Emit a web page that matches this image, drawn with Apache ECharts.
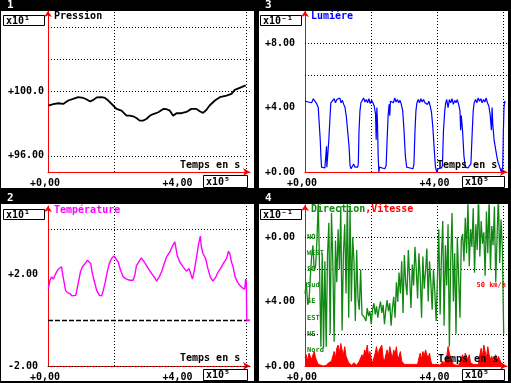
<!DOCTYPE html>
<html><head><meta charset="utf-8">
<script src="https://cdn.jsdelivr.net/npm/echarts@6/dist/echarts.min.js"></script>
<style>html,body{margin:0;padding:0;background:#000}#c{width:511px;height:383px}</style>
</head><body><div id="c"></div>
<script>
// ---------- DATA ----------
// Panel 1 : Pression (x10^1), time in x10^5 s
const presX = [0.01,0.16,0.31,0.46,0.61,0.76,0.91,1.07,1.17,1.27,1.37,1.47,1.62,1.72,1.82,1.97,2.07,2.22,2.37,2.47,2.57,2.67,2.77,2.87,2.97,3.08,3.18,3.33,3.48,3.58,3.68,3.78,3.88,4.03,4.18,4.33,4.48,4.58,4.68,4.78,4.88,5.04,5.19,5.39,5.54,5.64,5.79,5.97];
const presY = [99.13,99.21,99.27,99.23,99.44,99.54,99.65,99.60,99.50,99.38,99.48,99.63,99.65,99.60,99.44,99.13,98.92,98.81,98.50,98.50,98.46,98.35,98.19,98.19,98.29,98.50,98.60,98.71,98.92,98.90,98.81,98.50,98.65,98.65,98.73,98.92,98.92,98.77,98.67,98.85,99.13,99.44,99.65,99.75,99.85,100.10,100.23,100.38];

// Panel 3 : Lumière (x10^-1)
const lumX = [0.00,0.05,0.10,0.15,0.20,0.25,0.30,0.35,0.40,0.43,
0.46,0.48,0.50,0.55,0.60,0.63,0.65,0.66,0.70,0.72,
0.75,0.78,0.82,0.88,0.92,0.96,1.00,1.05,1.09,1.13,
1.17,1.21,1.25,1.29,1.33,1.36,1.39,1.43,1.47,1.51,
1.56,1.59,1.61,1.63,1.66,1.69,1.73,1.77,1.81,1.85,
1.89,1.93,1.97,2.01,2.05,2.09,2.13,2.15,2.17,2.19,
2.21,2.23,2.25,2.29,2.33,2.37,2.41,2.45,2.48,2.51,
2.54,2.56,2.58,2.63,2.67,2.71,2.75,2.79,2.83,2.87,
2.91,2.95,2.99,3.03,3.07,3.12,3.17,3.22,3.26,3.29,
3.32,3.35,3.38,3.42,3.46,3.50,3.54,3.58,3.62,3.66,
3.70,3.74,3.78,3.82,3.86,3.90,3.94,3.98,4.02,4.07,
4.12,4.15,4.18,4.22,4.25,4.28,4.32,4.36,4.40,4.44,
4.48,4.52,4.56,4.60,4.64,4.68,4.70,4.72,4.76,4.80,
4.84,4.88,4.92,4.96,5.01,5.05,5.08,5.11,5.15,5.19,
5.23,5.27,5.31,5.35,5.39,5.43,5.47,5.51,5.55,5.59,
5.63,5.65,5.67,5.71,5.75,5.79,5.83,5.88,5.93,5.97,
5.99,6.01,6.03,6.05];
const lumY = [4.4,4.5,4.35,4.45,4.3,4.55,4.4,4.25,4.0,3.0,
2.0,1.0,0.3,0.2,0.25,0.3,1.6,0.3,0.35,2.0,
3.2,4.3,4.4,4.55,4.3,4.5,4.4,4.6,4.3,4.45,
4.2,4.0,3.4,2.5,1.6,0.4,0.2,0.3,0.5,0.3,
0.35,0.3,0.5,2.5,3.8,4.3,4.4,4.6,4.35,4.5,
4.3,4.55,4.25,4.45,4.3,4.1,3.6,2.0,4.0,3.0,
1.0,0.0,0.3,0.2,0.25,0.3,0.2,0.4,2.0,3.5,
4.2,3.5,4.4,4.5,4.3,4.6,4.35,4.5,4.3,4.45,
4.2,3.8,2.6,1.0,0.3,0.2,0.25,0.3,0.2,0.5,
2.5,3.8,4.3,4.5,4.3,4.55,4.35,4.5,4.3,4.4,
4.2,4.4,4.1,3.7,2.8,1.5,0.3,0.0,0.2,0.3,
0.25,0.4,2.5,3.8,4.3,4.5,4.0,4.5,4.3,4.55,
4.2,4.45,4.3,4.5,4.2,3.8,2.6,3.5,2.5,1.0,
0.3,0.2,0.25,0.35,0.5,2.5,3.8,4.3,4.5,4.3,
4.6,4.4,4.55,4.3,4.5,4.35,4.6,4.3,4.1,3.6,
2.6,4.0,3.0,2.0,1.5,1.0,0.6,0.3,0.0,0.3,
2.5,4.0,4.4,4.3];

// Panel 2 : Température (x10^1)
const tempX = [0.01,0.06,0.11,0.16,0.21,0.26,0.31,0.36,0.41,0.44,
0.48,0.53,0.59,0.66,0.72,0.78,0.84,0.88,0.93,0.98,
1.04,1.12,1.19,1.25,1.29,1.33,1.39,1.47,1.55,1.62,
1.67,1.73,1.79,1.85,1.92,1.99,2.05,2.12,2.19,2.27,
2.37,2.47,2.57,2.62,2.67,2.75,2.82,2.87,2.94,3.03,
3.13,3.23,3.28,3.36,3.43,3.50,3.58,3.68,3.76,3.83,
3.86,3.90,3.98,4.08,4.18,4.26,4.31,4.36,4.41,4.48,
4.54,4.60,4.63,4.68,4.76,4.83,4.90,4.98,5.07,5.14,
5.21,5.29,5.39,5.45,5.49,5.54,5.59,5.65,5.72,5.79,
5.87,5.94,5.97,5.99,6.00,6.10];
const tempY = [1.39,1.75,1.90,1.80,1.97,2.12,2.23,2.29,2.34,2.04,
1.71,1.31,1.21,1.17,1.07,1.02,1.09,1.39,1.75,2.12,
2.34,2.48,2.63,2.70,2.48,2.12,1.75,1.31,1.09,1.07,
1.31,1.68,2.12,2.48,2.70,2.82,2.77,2.55,2.19,1.90,
1.80,1.75,1.75,1.97,2.38,2.58,2.73,2.77,2.48,2.26,
2.04,1.85,1.71,1.90,2.12,2.44,2.77,2.99,3.26,3.43,
3.36,2.85,2.55,2.34,2.15,2.26,2.04,1.80,2.12,2.70,
3.28,3.68,3.21,2.92,2.70,2.26,1.90,1.71,1.90,2.12,
2.26,2.48,2.70,3.02,2.92,2.55,2.34,1.90,1.68,1.53,
1.42,1.36,1.80,1.71,0.0,0.0];

// Panel 4 : Direction & Vitesse (x10^-1), sampled every 0.04 x10^5 s
const windStep = 0.04;
const dirY = [4.5,5.2,3.8,4.0,5.5,
6.8,7.5,5.9,6.2,7.8,10.2,6.0,1.2,7.0,1.1,6.5,1.2,6.9,
8.9,2.0,9.5,6.5,1.5,7.8,5.2,8.5,6.0,9.9,2.2,7.0,8.8,4.5,10.5,3.0,
9.8,4.0,8.0,6.5,2.8,7.2,4.2,3.5,6.0,3.2,
3.3,3.0,2.8,3.6,3.1,3.4,2.6,3.5,3.9,3.2,3.7,3.0,3.6,4.0,3.3,3.8,2.6,3.5,4.1,3.4,3.9,2.5,3.6,4.3,3.0,
5.2,4.0,5.8,4.5,6.5,3.3,6.9,5.2,4.4,7.2,5.5,3.6,6.3,5.0,7.4,
6.0,4.2,7.0,5.5,3.0,6.8,4.8,5.9,7.3,4.0,6.5,5.2,3.5,6.0,4.6,2.8,5.5,
8.5,3.2,6.8,9.0,2.5,7.5,5.0,8.8,1.2,6.5,9.5,4.0,7.0,2.0,8.0,5.5,3.0,7.8,
8.2,6.5,9.2,7.0,10.2,6.2,8.5,7.4,9.8,5.8,8.8,7.2,10.5,6.8,9.0,7.6,8.3,5.6,9.6,7.0,10.4,6.0,8.7,7.5,9.9,5.2,8.0,10.6,6.4,9.1,7.3,2.0];
const speedY = [0.5,0.7,0.3,0.8,0.6,0.4,0.7,0.9,0.5,0.3,0.1,
0.1,0.05,0.1,0,0.1,0.05,0.1,0.2,0.1,0.3,
0.6,0.9,0.5,1.1,1.3,0.8,1.4,1.0,0.7,1.2,0.6,0.4,0.2,
0.1,0.05,0.1,0.2,0.1,0.05,0.1,0.3,0.2,
0.7,0.5,1.0,0.8,1.3,0.6,0.9,0.4,0.2,0.5,
0.8,1.2,0.6,1.0,0.9,1.3,0.5,0.3,
0.7,1.0,0.6,1.2,0.8,0.5,1.0,0.7,1.2,0.4,0.6,0.9,0.3,0.2,0.1,
0.05,0.1,0,0.1,0.05,0.1,0.05,0.1,0.2,0.1,
0.5,0.8,0.4,0.9,0.6,1.0,0.7,0.5,0.8,0.3,0.1,0.05,
0.1,0.05,0.1,0.2,0.05,0.1,0.3,0.1,0.05,
0.6,1.2,0.8,0.5,0.3,0.1,
0.1,0.05,0.1,0.05,0.2,
0.5,0.7,0.3,0.8,0.6,0.4,0.7,0.2,0.1,
0.1,0.05,0.1,0.2,0.1,
0.7,1.1,0.6,1.3,0.9,0.5,1.2,0.7,0.4,0.6,0.3,
0.5,0.7,0.3,0.6,0.4,0.2,0.1,0.05];

// Tick labels
const xTickVals = [0, 4];
const xTickLabels = ['+0,00', '+4,00'];
const p1TickVals = [96, 100];  const p1TickLabels = ['+96.00', '+100.0'];
const p2TickVals = [-2, 2];    const p2TickLabels = ['-2.00', '+2.00'];
const p3TickVals = [0, 4, 8];  const p3TickLabels = ['+0.00', '+4.00', '+8.00'];
const p4TickVals = [0, 4, 8];  const p4TickLabels = ['+0.00', '+4.00', '+0.00'];
const dirTickVals = [1, 2, 3, 4, 5, 6, 7, 8];
const dirTickLabels = ['Nord', 'NE', 'EST', 'SE', 'Sud', 'SO', 'WEST', 'NO'];
const speedTickVals = [5]; const speedTickLabels = ['50 km/h'];

// Grid (dotted) reference lines
const p1GridX = [2, 6], p1GridY = [104, 102, 100, 96];
const p2GridX = [2, 6], p2GridY = [4, -2], p2Zero = [0];
const p3GridX = [2, 4, 6], p3GridY = [8, 6];
const p4GridX = [2, 4, 6], p4GridY = [8, 6, 2];

// ---------- CHART ----------
const FONT = 'DejaVu Sans Mono';
const RED = '#ff0000';
const chart = echarts.init(document.getElementById('c'), null, {renderer: 'canvas'});

function xAxis(grid) {
  return {
    type: 'value', gridIndex: grid, min: 0, max: 6.1,
    axisLine: {show: true, onZero: false, lineStyle: {color: RED, width: 1}, symbol: ['none', 'arrow'], symbolSize: [6, 7]},
    axisTick: {show: false}, splitLine: {show: false},
    axisLabel: {customValues: xTickVals, formatter: v => xTickLabels[xTickVals.indexOf(v)],
      color: '#000', fontFamily: FONT, fontWeight: 'bold', fontSize: 10, margin: 6, padding: [0, 6, 0, 0]}
  };
}
function yAxis(grid, min, max, vals, labels) {
  return {
    type: 'value', gridIndex: grid, min: min, max: max,
    axisLine: {show: true, onZero: false, lineStyle: {color: RED, width: 1}, symbol: ['none', 'arrow'], symbolSize: [6, 6]},
    axisTick: {show: false}, splitLine: {show: false},
    axisLabel: {customValues: vals, formatter: v => labels[vals.indexOf(v)], align: 'left',
      color: '#000', fontFamily: FONT, fontWeight: 'bold', fontSize: 10, margin: 40}
  };
}
function gridML(xs, ys, extra) {
  const data = xs.map(v => ({xAxis: v})).concat(ys.map(v => ({yAxis: v})));
  return {
    silent: true, animation: false, symbol: ['none', 'none'], label: {show: false},
    emphasis: {disabled: true},
    lineStyle: {color: '#000', width: 1, type: [1, 2]},
    data: data.concat(extra || [])
  };
}
const pair = (xs, ys) => xs.map((x, i) => [x, ys[i]]);
const windT = dirY.map((_, i) => +(i * windStep).toFixed(2));

function txt(x, y, text, color, size, extra) {
  return Object.assign({type: 'text', z: 100, silent: true,
    style: {x: x, y: y, text: text, fill: color, font: 'bold ' + size + 'px "' + FONT + '"', textVerticalAlign: 'middle'}}, extra || {});
}
function box(x, y, w, h, text) {
  return [
    {type: 'rect', z: 90, silent: true, shape: {x: x + 0.5, y: y + 0.5, width: w, height: h}, style: {fill: '#fff', stroke: '#000', lineWidth: 1}},
    txt(x + 3, y + h / 2 + 1, text, '#000', 10)
  ];
}
function panelBg(x, y, w, h) {
  return {type: 'rect', z: -10, silent: true, shape: {x: x, y: y, width: w, height: h}, style: {fill: '#fff'}};
}

const graphics = [
  panelBg(1, 11, 253, 177), panelBg(259, 11, 249, 177),
  panelBg(1, 204, 253, 177), panelBg(259, 204, 249, 177),
  txt(7, 5.5, '1', '#fff', 11), txt(265, 5.5, '3', '#fff', 11),
  txt(7, 198, '2', '#fff', 11), txt(265, 198, '4', '#fff', 11),
  txt(54, 16.5, 'Pression', '#000', 10),
  txt(311, 16.5, 'Lumière', '#0000ff', 10),
  txt(54, 210, 'Température', '#ff00ff', 10),
  {type: 'text', z: 100, silent: true, style: {x: 311, y: 209.5, textVerticalAlign: 'middle',
    rich: {g: {fill: '#118811', font: 'bold 10px "' + FONT + '"'}, r: {fill: RED, font: 'bold 10px "' + FONT + '"'}},
    text: '{g|Direction}{r|,Vitesse}'}},
  txt(180, 165.5, 'Temps en s', '#000', 10),
  txt(437, 165.5, 'Temps en s', '#000', 10),
  txt(180, 358.5, 'Temps en s', '#000', 10),
  txt(438, 359, 'Temps en s', '#000', 10)
].concat(
  box(3, 15, 41, 10, 'x10¹'), box(260, 15, 41, 10, 'x10⁻¹'),
  box(3, 209, 41, 10, 'x10¹'), box(260, 209, 41, 10, 'x10⁻¹'),
  box(203, 175, 44, 12, 'x10⁵'), box(462, 176, 42, 11, 'x10⁵'),
  box(203, 369, 44, 11, 'x10⁵'), box(462, 369, 42, 11, 'x10⁵')
);

const option = {
  animation: false,
  backgroundColor: '#000',
  grid: [
    {left: 48, top: 11, width: 202, height: 161},
    {left: 305, top: 11, width: 202, height: 161},
    {left: 48, top: 206, width: 202, height: 160},
    {left: 305, top: 205, width: 202, height: 161}
  ],
  xAxis: [xAxis(0), xAxis(1), xAxis(2), xAxis(3)],
  yAxis: [
    yAxis(0, 95, 105, p1TickVals, p1TickLabels),
    yAxis(1, 0, 10, p3TickVals, p3TickLabels),
    yAxis(2, -2, 5, p2TickVals, p2TickLabels),
    yAxis(3, 0, 10, p4TickVals, p4TickLabels),
    {type: 'value', gridIndex: 3, min: 0, max: 10, position: 'left',
      axisLine: {show: false}, axisTick: {show: false}, splitLine: {show: false},
      axisLabel: {inside: true, customValues: dirTickVals, formatter: v => dirTickLabels[dirTickVals.indexOf(v)],
        color: '#118811', fontFamily: FONT, fontWeight: 'bold', fontSize: 7, margin: 2}},
    {type: 'value', gridIndex: 3, min: 0, max: 10, position: 'right',
      axisLine: {show: false}, axisTick: {show: false}, splitLine: {show: false},
      axisLabel: {inside: true, customValues: speedTickVals, formatter: v => speedTickLabels[speedTickVals.indexOf(v)],
        color: RED, fontFamily: FONT, fontWeight: 'bold', fontSize: 7, margin: 1}}
  ],
  graphic: graphics,
  series: [
    {type: 'line', xAxisIndex: 0, yAxisIndex: 0, data: pair(presX, presY), showSymbol: false, z: 5,
      lineStyle: {color: '#000', width: 1.8}, markLine: gridML(p1GridX, p1GridY)},
    {type: 'line', xAxisIndex: 1, yAxisIndex: 1, data: pair(lumX, lumY), showSymbol: false, z: 5,
      lineStyle: {color: '#0000ff', width: 1.2}, markLine: gridML(p3GridX, p3GridY)},
    {type: 'line', xAxisIndex: 2, yAxisIndex: 2, data: pair(tempX, tempY), showSymbol: false, z: 5,
      lineStyle: {color: '#ff00ff', width: 1.4},
      markLine: gridML(p2GridX, p2GridY, p2Zero.map(v => ({yAxis: v, lineStyle: {color: '#000', width: 1.3, type: [5, 2]}})))},
    {type: 'line', xAxisIndex: 3, yAxisIndex: 3, data: pair(windT, speedY), showSymbol: false, z: 4,
      lineStyle: {color: RED, width: 1}, areaStyle: {color: RED, opacity: 1}, markLine: gridML(p4GridX, p4GridY)},
    {type: 'line', xAxisIndex: 3, yAxisIndex: 3, data: pair(windT, dirY), showSymbol: false, z: 5,
      lineStyle: {color: '#118811', width: 1.3}}
  ]
};
chart.setOption(option);
</script>
</body></html>
